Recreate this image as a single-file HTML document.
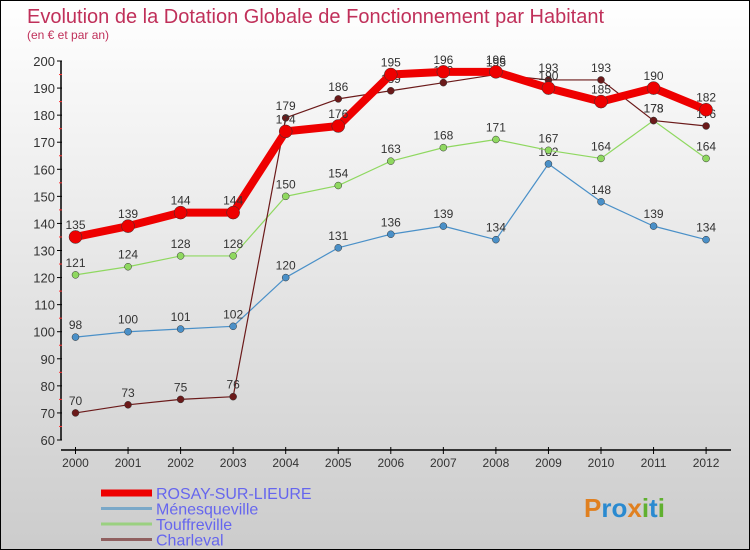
<!DOCTYPE html>
<html><head><meta charset="utf-8"><style>
body{margin:0}
#c{width:748px;height:548px;border:1px solid #000;background:linear-gradient(#fff,#ccc);position:relative;font-family:"Liberation Sans",sans-serif;overflow:hidden}
</style></head><body>
<div id="c">
<svg id="s" width="748" height="548" style="position:absolute;left:0;top:0">
<text x="26" y="22" font-size="20" fill="#c0305a">Evolution de la Dotation Globale de Fonctionnement par Habitant</text>
<text x="26" y="38" font-size="12" fill="#c0305a">(en € et par an)</text>
</svg>
</div>
<script>
const years=["2000","2001","2002","2003","2004","2005","2006","2007","2008","2009","2010","2011","2012"];
const rosay=[135,139,144,144,174,176,195,196,196,190,185,190,182];
const menes=[98,100,101,102,120,131,136,139,134,162,148,139,134];
const touff=[121,124,128,128,150,154,163,168,171,167,164,178,164];
const charl=[70,73,75,76,179,186,189,192,195,193,193,178,176];
const yTicks=[60,70,80,90,100,110,120,130,140,150,160,170,180,190,200];
const NS="http://www.w3.org/2000/svg";
const s=document.getElementById('s');
const X=i=>74.5+i*52.55;
const Y=v=>439-(v-60)*(379/140);
function mk(t,a,p){const e=document.createElementNS(NS,t);for(const k in a)e.setAttribute(k,a[k]);(p||s).appendChild(e);return e;}
let ax=mk('line',{x1:60,y1:Y(200),x2:60,y2:Y(60),stroke:'#000','stroke-width':1.5});


let xa=mk('line',{x1:60,y1:449,x2:730,y2:449,stroke:'#000','stroke-width':1.5});


yTicks.forEach(v=>{
  mk('line',{x1:56,x2:61,y1:Y(v),y2:Y(v),stroke:'#000'});
  if(v<200) mk('line',{x1:58,x2:61,y1:Y(v+5),y2:Y(v+5),stroke:'#f33'});
  const t=mk('text',{x:54,y:Y(v)+5,'font-size':13,fill:'#333','text-anchor':'end'});
  t.textContent=v;
  
  
});
years.forEach((y,i)=>{
  mk('line',{x1:X(i),x2:X(i),y1:446,y2:453,stroke:'#000'});
  const t=mk('text',{x:X(i),y:466,'font-size':12,fill:'#333','text-anchor':'middle'});
  t.textContent=y;
  
  
});
function series(d,col,w,r,name){
  const g=mk('g',{});
  
  
  mk('polyline',{points:d.map((v,i)=>X(i)+','+Y(v)).join(' '),fill:'none',stroke:col,'stroke-width':w,'stroke-linejoin':'round'},g);
  d.forEach((v,i)=>{
    const c=mk('circle',{cx:X(i),cy:Y(v),r:r,fill:col,stroke:'#333','stroke-width':0.5},g);
    
    
    const t=mk('text',{x:X(i),y:Y(v)-8,'font-size':12,fill:'#333','text-anchor':'middle'},g);
    t.textContent=v;
    
    
  });
}
series(menes,'#4a90c8',1.2,3.5,'menesqueville');
series(touff,'#8fd860',1.2,3.5,'touffreville');
series(charl,'#6b1a1a',1.2,3.5,'charleval');
series(rosay,'#ee0000',8,6.5,'rosay-sur-lieure');
const legend=[["ROSAY-SUR-LIEURE","#ee0000",7],["Ménesqueville","#7aa8c8",3],["Touffreville","#9ad080",3],["Charleval","#906060",3]];
legend.forEach((l,i)=>{
  const y=492+i*15.5;
  const g=mk('g',{});
  
  
  mk('line',{x1:100,x2:151,y1:y,y2:y,stroke:l[1],'stroke-width':l[2]},g);
  const t=mk('text',{x:155,y:y+6,'font-size':16,fill:'#6666ee'},g);
  t.textContent=l[0];
});
const p=mk('text',{x:583,y:516,'font-size':26,'font-weight':'bold',fill:'#2a8ad0'});
p.innerHTML='<tspan fill="#e08020">P</tspan>ro<tspan fill="#e08020">x</tspan><tspan fill="#60b030">i</tspan>t<tspan fill="#60b030">i</tspan>';


</script>
</body></html>
